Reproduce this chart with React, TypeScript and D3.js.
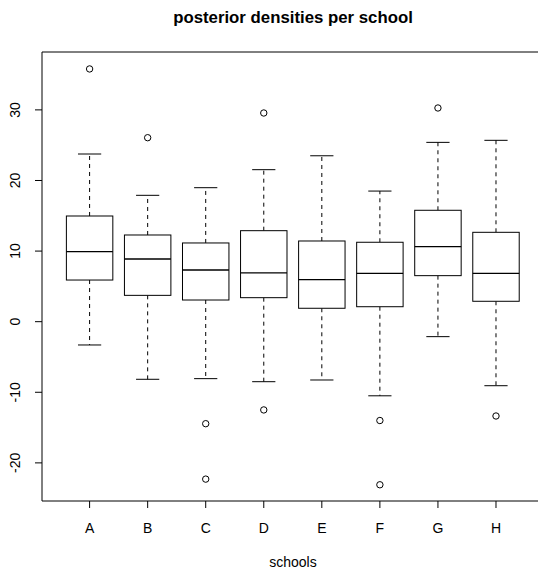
import * as d3 from "d3";

// values (posterior draws summarised per school)
const schools = ["A", "B", "C", "D", "E", "F", "G", "H"];
const lowerWhisker = [-3.3, -8.16, -8.07, -8.5, -8.26, -10.5, -2.12, -9.07];
const q1 = [5.9, 3.73, 3.07, 3.4, 1.9, 2.12, 6.52, 2.89];
const median = [9.92, 8.88, 7.32, 6.9, 5.95, 6.85, 10.62, 6.85];
const q3 = [14.97, 12.28, 11.15, 12.89, 11.43, 11.25, 15.78, 12.66];
const upperWhisker = [23.75, 17.9, 18.98, 21.53, 23.5, 18.5, 25.4, 25.69];
const outliers = [[35.8], [26.06], [-14.45, -22.3], [29.56, -12.5], [], [-14.0, -23.1], [30.27], [-13.36]];
const yTicks = [-20, -10, 0, 10, 20, 30];

const width = 538;
const height = 569;
const font = "'Liberation Sans', Arial, Helvetica, sans-serif";

const App = () => {
  const x = d3.scaleLinear().domain([0.18, 8.82]).range([42, 543.6]);
  const y = d3.scaleLinear().domain([-25.4, 38.2]).range([501, 52]);

  const unit = x(2) - x(1);
  const boxHalf = unit * 0.4;
  const capHalf = unit * 0.2;
  const [left, right] = x.range();
  const [bottom, top] = y.range();

  return (
    <svg width={width} height={height} style={{ position: "absolute", left: 0, top: 0, overflow: "hidden" }}>
      <rect x={0} y={0} width={width} height={height} fill="white" />
      {/* plot frame: it runs off the right edge, so no right side shows */}
      <g stroke="black" strokeWidth={1}>
        <line x1={left} x2={right} y1={top} y2={top} />
        <line x1={left} x2={right} y1={bottom} y2={bottom} />
        <line x1={left} x2={left} y1={top} y2={bottom} />
      </g>

      {schools.map((s, i) => {
        const cx = x(i + 1);
        return (
          <g key={s} stroke="black" strokeWidth={1} fill="none">
            <line x1={cx} x2={cx} y1={y(q3[i])} y2={y(upperWhisker[i])} strokeDasharray="4,4" />
            <line x1={cx} x2={cx} y1={y(q1[i])} y2={y(lowerWhisker[i])} strokeDasharray="4,4" />
            <line x1={cx - capHalf} x2={cx + capHalf} y1={y(upperWhisker[i])} y2={y(upperWhisker[i])} />
            <line x1={cx - capHalf} x2={cx + capHalf} y1={y(lowerWhisker[i])} y2={y(lowerWhisker[i])} />
            <rect x={cx - boxHalf} y={y(q3[i])} width={boxHalf * 2} height={y(q1[i]) - y(q3[i])} fill="white" />
            <line x1={cx - boxHalf} x2={cx + boxHalf} y1={y(median[i])} y2={y(median[i])} strokeWidth={1.3} />
            {outliers[i].map((o, j) => (
              <circle key={j} cx={cx} cy={y(o)} r={3.2} />
            ))}
          </g>
        );
      })}

      {/* x axis */}
      <g fontFamily={font} fontSize={14} textAnchor="middle">
        {schools.map((s, i) => (
          <g key={s}>
            <line x1={x(i + 1)} x2={x(i + 1)} y1={bottom} y2={bottom + 7} stroke="black" />
            <text x={x(i + 1)} y={533}>{s}</text>
          </g>
        ))}
      </g>

      {/* y axis */}
      <g fontFamily={font} fontSize={14} textAnchor="middle">
        {yTicks.map((t) => (
          <g key={t}>
            <line x1={left - 7} x2={left} y1={y(t)} y2={y(t)} stroke="black" />
            <text transform={`translate(20,${y(t)}) rotate(-90)`}>{t}</text>
          </g>
        ))}
      </g>

      <text x={293} y={22.5} textAnchor="middle" fontFamily={font} fontSize={16.8} fontWeight="bold">
        posterior densities per school
      </text>
      <text x={293} y={567} textAnchor="middle" fontFamily={font} fontSize={14}>
        schools
      </text>
    </svg>
  );
};

export default App;
